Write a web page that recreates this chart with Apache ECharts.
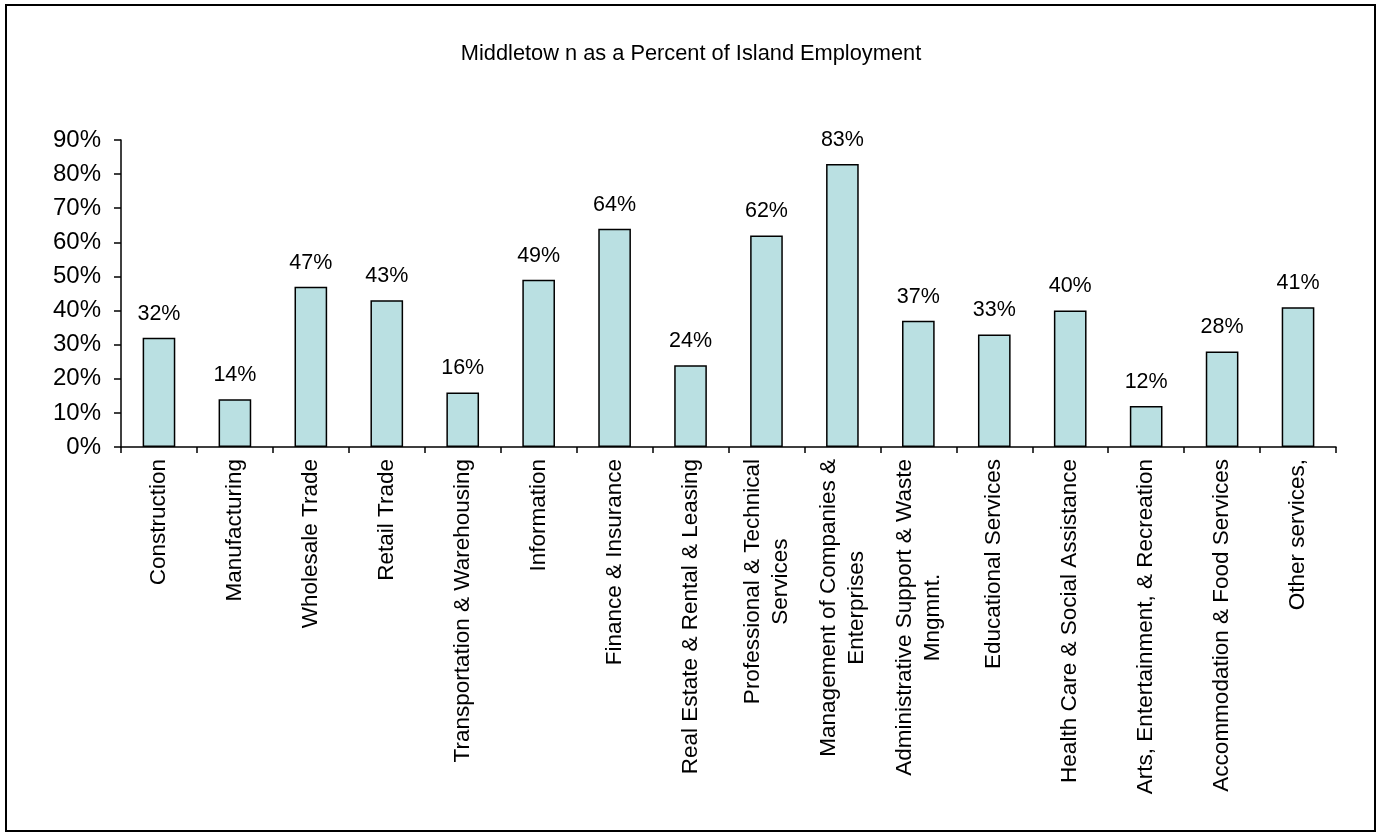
<!DOCTYPE html>
<html>
<head>
<meta charset="utf-8">
<script src="https://cdn.jsdelivr.net/npm/echarts@6/dist/echarts.min.js"></script>
<style>
html,body{margin:0;padding:0;background:#fff;}
#chart{width:1382px;height:834px;}
</style>
</head>
<body>
<div id="chart"></div>
<script>
const titleText = 'Middletow n as a Percent of Island Employment';
const categories = [
  'Construction',
  'Manufacturing',
  'Wholesale Trade',
  'Retail Trade',
  'Transportation & Warehousing',
  'Information',
  'Finance & Insurance',
  'Real Estate & Rental & Leasing',
  'Professional & Technical\nServices',
  'Management of Companies &\nEnterprises',
  'Administrative Support & Waste\nMngmnt.',
  'Educational Services',
  'Health Care & Social Assistance',
  'Arts, Entertainment, & Recreation',
  'Accommodation & Food Services',
  'Other services,'
];
const values = [0.32, 0.14, 0.47, 0.43, 0.16, 0.49, 0.64, 0.24, 0.62, 0.83, 0.37, 0.33, 0.40, 0.12, 0.28, 0.41];
const yMin = 0, yMax = 0.9, yStep = 0.1;

const FONT = "'Liberation Sans', Arial, sans-serif";
const chart = echarts.init(document.getElementById('chart'));
chart.setOption({
  animation: false,
  backgroundColor: '#ffffff',
  textStyle: { fontFamily: FONT, color: '#000' },
  title: {
    text: titleText,
    left: 'center',
    top: 38,
    textStyle: { fontFamily: FONT, fontSize: 21.8, fontWeight: 'normal', color: '#000' }
  },
  graphic: [{
    type: 'rect',
    shape: { x: 6, y: 5, width: 1369, height: 826 },
    style: { fill: 'none', stroke: '#000', lineWidth: 2 },
    silent: true
  }],
  grid: { left: 121, right: 46, top: 140, bottom: 387, containLabel: false },
  xAxis: {
    type: 'category',
    data: categories,
    axisLine: { lineStyle: { color: '#000', width: 1.5 } },
    axisTick: { show: true, alignWithLabel: false, length: 6, lineStyle: { color: '#000', width: 1.5 } },
    axisLabel: {
      rotate: 90,
      interval: 0,
      margin: 12,
      color: '#000',
      fontFamily: FONT,
      fontSize: 22.5,
      formatter: function (v) { return v.split('\n').map(function (s) { return '{c|' + s + '}'; }).join('\n'); },
      rich: { c: { align: 'center', fontFamily: FONT, fontSize: 22.5, lineHeight: 28, color: '#000' } }
    },
    splitLine: { show: false }
  },
  yAxis: {
    type: 'value',
    min: yMin, max: yMax, interval: yStep,
    axisLine: { show: true, lineStyle: { color: '#000', width: 1.5 } },
    axisTick: { show: true, length: 7, lineStyle: { color: '#000', width: 1.5 } },
    splitLine: { show: false },
    axisLabel: {
      margin: 20,
      color: '#000',
      fontFamily: FONT,
      fontSize: 24,
      formatter: function (v) { return Math.round(v * 100) + '%'; }
    }
  },
  series: [{
    type: 'bar',
    data: values,
    barWidth: '43%',
    itemStyle: { color: '#BAE0E2', borderColor: '#000', borderWidth: 1.5 },
    label: {
      show: true,
      position: 'top',
      distance: 13,
      color: '#000',
      fontFamily: FONT,
      fontSize: 21.5,
      formatter: function (p) { return Math.round(p.value * 100) + '%'; }
    }
  }]
});
</script>
</body>
</html>
